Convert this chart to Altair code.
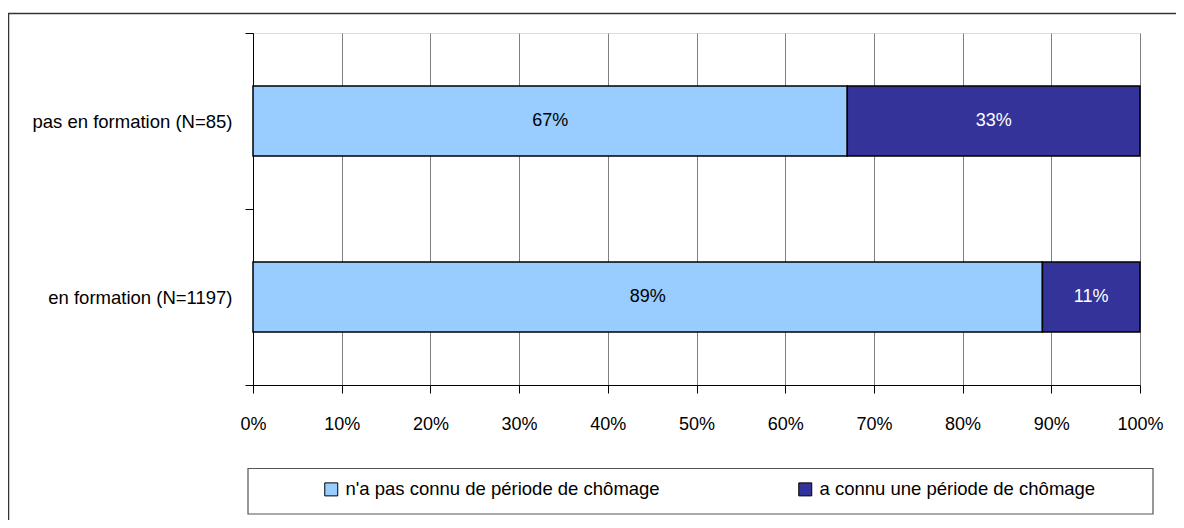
import altair as alt
import pandas as pd

categories = ["pas en formation (N=85)", "en formation (N=1197)"]
series = ["n'a pas connu de période de chômage", "a connu une période de chômage"]
vals_light = [67, 89]
vals_dark = [33, 11]
x_ticks = [0, 10, 20, 30, 40, 50, 60, 70, 80, 90, 100]

rows = []
for i, c in enumerate(categories):
    rows.append({"category": c, "series": series[0], "order": 0, "value": vals_light[i], "label": f"{vals_light[i]}%"})
    rows.append({"category": c, "series": series[1], "order": 1, "value": vals_dark[i], "label": f"{vals_dark[i]}%"})
df = pd.DataFrame(rows)

FONT = "Liberation Sans"
FS = 18
FSL = 18.5
W, H = 887, 352

base = alt.Chart(df).transform_stack(
    stack="value", groupby=["category"], as_=["x0", "x1"], sort=[alt.SortField("order")]
).transform_calculate(mid="(datum.x0 + datum.x1) / 2")

y_enc = alt.Y(
    "category:N",
    sort=categories,
    scale=alt.Scale(paddingInner=0, paddingOuter=0),
    axis=alt.Axis(
        title=None, tickBand="extent", grid=False, domainColor="#000000",
        tickColor="#000000", tickSize=8, labelPadding=13, labelFont=FONT,
        labelFontSize=FSL, labelColor="#000000", labelLimit=400,
    ),
)

bars = base.mark_bar(size=70, stroke="#000000", strokeWidth=1.5).encode(
    x=alt.X(
        "x0:Q",
        scale=alt.Scale(domain=[0, 100], nice=False),
        axis=alt.Axis(
            title=None, values=x_ticks, labelExpr="datum.value + '%'",
            grid=True, gridColor="#808080", gridWidth=1, domainColor="#000000",
            tickColor="#000000", tickSize=8, labelPadding=22, labelFont=FONT,
            labelFontSize=FS, labelColor="#000000", labelFlush=False,
        ),
    ),
    x2="x1:Q",
    y=y_enc,
    color=alt.Color(
        "series:N",
        scale=alt.Scale(domain=series, range=["#99CCFF", "#333399"]),
        legend=alt.Legend(
            title=None, orient="none", direction="horizontal", legendX=69, legendY=447,
            padding=0, symbolType="square", symbolSize=169, symbolStrokeColor="#000000",
            symbolStrokeWidth=1, labelFont=FONT, labelFontSize=FSL, labelColor="#000000",
            labelOffset=5, columnPadding=136, labelLimit=500,
        ),
    ),
)

text = base.mark_text(font=FONT, fontSize=FS).encode(
    x=alt.X("mid:Q"),
    y=alt.Y("category:N", sort=categories),
    text="label:N",
    color=alt.condition(alt.datum.order == 1, alt.value("#FFFFFF"), alt.value("#000000")),
)

frame_data = alt.Data(values=[{"k": 1}])
outer_frame = alt.Chart(frame_data).mark_rect(fill="transparent", stroke="#333333", strokeWidth=1.5).encode(
    x=alt.value(-244.5), x2=alt.value(1200), y=alt.value(-19.5), y2=alt.value(700)
)
legend_frame = alt.Chart(frame_data).mark_rect(fill="#FFFFFF", stroke="#555555", strokeWidth=1.2).encode(
    x=alt.value(-5), x2=alt.value(900), y=alt.value(435.5), y2=alt.value(481)
)

chart = alt.layer(outer_frame, legend_frame, bars, text).properties(
    width=W, height=H,
    autosize=alt.AutoSizeParams(type="none"),
    padding={"left": 245, "top": 25, "right": 36, "bottom": 135},
).configure_view(stroke="#808080", strokeWidth=1).configure(background="#FFFFFF")

chart.save("out.html", embed_options={"renderer": "svg", "actions": False})
